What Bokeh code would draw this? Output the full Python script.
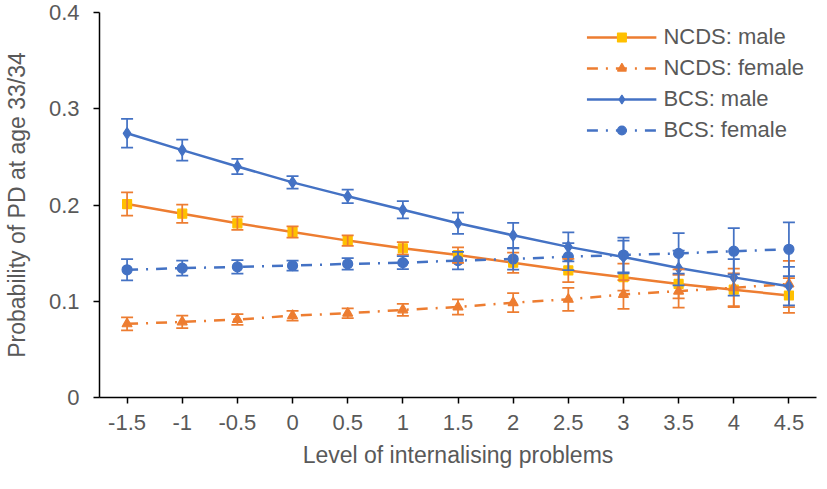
from bokeh.plotting import figure
from bokeh.models import (ColumnDataSource, Whisker, TeeHead, FactorRange, Range1d,
                          FixedTicker, CustomJSTickFormatter, Legend, LegendItem)
from bokeh.embed import file_html
from bokeh.resources import INLINE

x_labels = ["-1.5", "-1", "-0.5", "0", "0.5", "1", "1.5", "2", "2.5", "3", "3.5", "4", "4.5"]

ncds_male = [0.201, 0.191, 0.181, 0.172, 0.163, 0.155, 0.148, 0.140, 0.132, 0.125, 0.118, 0.112, 0.106]
ncds_male_err = [0.012, 0.0095, 0.0068, 0.0058, 0.0055, 0.0065, 0.008, 0.0105, 0.012, 0.014, 0.015, 0.017, 0.018]

ncds_female = [0.0765, 0.0785, 0.081, 0.085, 0.0875, 0.091, 0.094, 0.0985, 0.102, 0.107, 0.1105, 0.114, 0.118]
ncds_female_err = [0.0068, 0.0065, 0.0056, 0.005, 0.0051, 0.0063, 0.008, 0.0099, 0.012, 0.015, 0.017, 0.020, 0.024]

bcs_male = [0.2745, 0.257, 0.240, 0.2235, 0.209, 0.195, 0.181, 0.1685, 0.1565, 0.146, 0.1345, 0.1248, 0.1156]
bcs_male_err = [0.015, 0.011, 0.008, 0.0065, 0.007, 0.009, 0.011, 0.013, 0.015, 0.017, 0.018, 0.019, 0.020]

bcs_female = [0.1327, 0.1344, 0.1357, 0.137, 0.1388, 0.1401, 0.1422, 0.1439, 0.1463, 0.148, 0.1497, 0.152, 0.154]
bcs_female_err = [0.011, 0.0079, 0.0069, 0.0052, 0.006, 0.0067, 0.009, 0.011, 0.014, 0.018, 0.021, 0.024, 0.028]

y_ticks = [0, 0.1, 0.2, 0.3, 0.4]

series_names = ["NCDS: male", "NCDS: female", "BCS: male", "BCS: female"]

ORANGE = "#ED7D31"
BLUE = "#4472C4"
YELLOW = "#FFC000"
TEXT = "#595959"
FONT = "Liberation Sans"

p = figure(width=818, height=473,
           x_range=FactorRange(*x_labels, range_padding=0),
           y_range=Range1d(0, 0.4),
           output_backend="svg", toolbar_location=None,
           min_border_left=96, min_border_right=2, min_border_top=12, min_border_bottom=76)
p.outline_line_color = None
p.xgrid.visible = False
p.ygrid.visible = False

p.yaxis.ticker = FixedTicker(ticks=y_ticks)
p.yaxis.formatter = CustomJSTickFormatter(code="return tick == 0 ? '0' : tick.toFixed(1);")

for ax in (p.xaxis, p.yaxis):
    ax.axis_line_color = "black"
    ax.axis_line_width = 1.5
    ax.major_tick_line_color = "black"
    ax.major_tick_line_width = 1.5
    ax.major_tick_in = 0
    ax.major_tick_out = 6
    ax.minor_tick_line_color = None
    ax.major_label_text_font = FONT
    ax.major_label_text_font_size = "22px"
    ax.major_label_text_color = TEXT
    ax.axis_label_text_font = FONT
    ax.axis_label_text_font_size = "23px"
    ax.axis_label_text_color = TEXT
    ax.axis_label_text_font_style = "normal"

p.xaxis.axis_label = "Level of internalising problems"
p.yaxis.axis_label = "Probability of PD at age 33/34"
p.xaxis.major_label_standoff = 11
p.yaxis.major_label_standoff = 14
p.yaxis.axis_label_standoff = 16
p.xaxis.axis_label_standoff = 9

DASHDOT = "11 8 2 8"
specs = [
    (ncds_male, ncds_male_err, ORANGE, "solid", "square", YELLOW, 9),
    (ncds_female, ncds_female_err, ORANGE, DASHDOT, "triangle", ORANGE, 10),
    (bcs_male, bcs_male_err, BLUE, "solid", "diamond", BLUE, 11.5),
    (bcs_female, bcs_female_err, BLUE, DASHDOT, "circle", BLUE, 10),
]

items = []
for name, (vals, errs, col, dash, marker, mcol, msize) in zip(series_names, specs):
    src = ColumnDataSource(dict(
        x=x_labels, y=vals,
        upper=[v + e for v, e in zip(vals, errs)],
        lower=[v - e for v, e in zip(vals, errs)],
    ))
    lr = p.line("x", "y", source=src, line_color=col, line_width=2.5, line_dash=dash)
    w = Whisker(base="x", upper="upper", lower="lower", source=src,
                line_color=col, line_width=1.75, level="glyph",
                upper_head=TeeHead(size=12, line_color=col, line_width=1.75),
                lower_head=TeeHead(size=12, line_color=col, line_width=1.75))
    p.add_layout(w)
    sr = p.scatter("x", "y", source=src, marker=marker, size=msize,
                   fill_color=mcol, line_color=mcol, line_width=1.2)
    items.append(LegendItem(label=name, renderers=[lr, sr]))

legend = Legend(items=items, location="top_right")
legend.label_text_font = FONT
legend.label_text_font_size = "22px"
legend.label_text_color = TEXT
legend.glyph_width = 70
legend.glyph_height = 22
legend.label_height = 22
legend.spacing = 5
legend.label_standoff = 7
legend.padding = 2
legend.margin = 12
legend.border_line_color = None
legend.background_fill_alpha = 0
p.add_layout(legend)

open("out.html", "w").write(file_html(p, INLINE))
